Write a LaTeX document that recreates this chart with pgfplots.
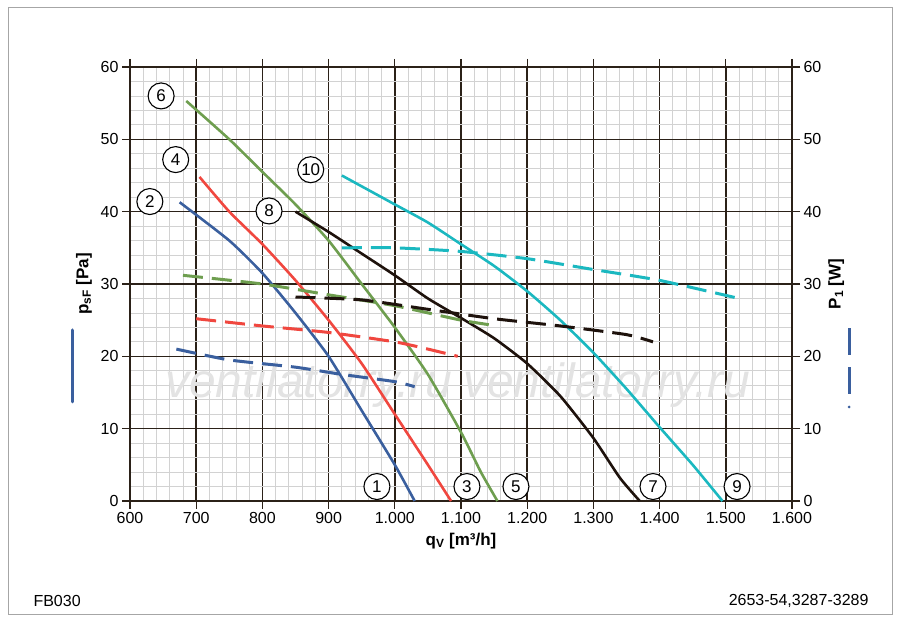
\documentclass[border=0pt]{standalone}
\usepackage{pgfplots}
\pgfplotsset{compat=1.18}
\usepackage{fontspec}
\setmainfont{Liberation Sans}
\definecolor{cblue}{HTML}{3A5F9E}
\definecolor{cred}{HTML}{F0473F}
\definecolor{cgreen}{HTML}{6E9E4F}
\definecolor{cblack}{HTML}{1E120C}
\definecolor{ccyan}{HTML}{1BB8C0}
\definecolor{gmaj}{HTML}{2B2118}
\begin{document}
\begin{tikzpicture}[x=1pt,y=1pt]
\path (0,0) rectangle (900,623);
\draw[gray!70,line width=1pt] (8,8) rectangle (892,615);
\node[font=\fontsize{16}{16}\selectfont,anchor=west] at (30,22) {FB030};
\node[font=\fontsize{16}{16}\selectfont,anchor=east] at (872,22) {2653-54,3287-3289};
\begin{axis}[at={(130pt,122pt)},anchor=south west,width=662pt,height=434pt,scale only axis,
 xmin=600,xmax=1600,ymin=0,ymax=60,
 xtick={600,700,...,1600},ytick={0,10,...,60},
 minor x tick num=4,minor y tick num=4,
 grid=both,
 major grid style={gmaj,line width=1.6pt},
 minor grid style={gray!35,line width=0.8pt},
 axis line style={gmaj,line width=1.6pt},
 tick align=outside,major tick length=8pt,minor tick length=0pt,
 tick style={gmaj,line width=1.2pt},
 ticklabel style={font=\fontsize{16}{16}\selectfont},
 /pgf/number format/assume math mode=true,
 /pgf/number format/1000 sep={.},
 scaled ticks=false,
 xlabel={\textbf{q\textsubscript{V} [m³/h]}},
 xlabel style={font=\fontsize{17}{17}\selectfont,yshift=-2pt},
 ylabel={\textbf{p\textsubscript{sF} [Pa]}},
 ylabel style={font=\fontsize{17}{17}\selectfont,yshift=2pt},
 clip=false]
\node[font=\fontsize{48}{48}\selectfont\itshape,text=gray!22] at (axis cs:870,16) {ventilatorry.ru};
\node[font=\fontsize{48}{48}\selectfont\itshape,text=gray!22] at (axis cs:1320,16) {ventilatorry.ru};
\tikzset{sol/.style={line width=2.6pt,smooth,tension=0.35},das/.style={line width=3pt,smooth,tension=0.35,dash pattern=on 20pt off 9pt}}
\addplot[cblue,sol] coordinates {(675,41.3)(750,36)(800,31.5)(850,26)(900,20)(950,12.5)(1000,5)(1030,0)};
\addplot[cred,sol] coordinates {(705,44.8)(750,40)(800,35.5)(850,30.5)(900,25)(950,19)(1000,12)(1050,5)(1085,0)};
\addplot[cgreen,sol] coordinates {(685,55.3)(750,50)(800,45.5)(850,41)(900,36)(950,30)(1000,24)(1050,17.5)(1100,9.5)(1130,4)(1155,0)};
\addplot[cblack,sol] coordinates {(850,40)(900,37.2)(950,34.2)(1000,31.2)(1050,28)(1100,25.3)(1150,22.5)(1200,19)(1250,14.5)(1300,8.7)(1340,3.2)(1370,0)};
\addplot[ccyan,sol] coordinates {(920,45)(1000,41)(1050,38.5)(1100,35.5)(1150,32.5)(1200,29)(1250,25)(1300,20.5)(1350,15.5)(1400,10.2)(1450,5)(1495,0)};
\addplot[cblue,das] coordinates {(670,21)(750,19.5)(850,18.5)(920,17.5)(1000,16.5)(1030,15.8)};
\addplot[cred,das] coordinates {(700,25.2)(800,24.2)(900,23.3)(1000,22)(1050,21)(1095,20)};
\addplot[cgreen,das] coordinates {(680,31.2)(800,30)(900,28.5)(1000,27)(1100,25)(1155,24.2)};
\addplot[cblack,das] coordinates {(850,28.2)(950,27.8)(1050,26.5)(1150,25.2)(1250,24.2)(1350,23)(1390,22)};
\addplot[ccyan,das] coordinates {(920,35)(1000,35)(1100,34.5)(1200,33.5)(1300,32)(1400,30.5)(1520,28)};
\tikzset{lab/.style={circle,draw=black,line width=1.1pt,fill=white,inner sep=0pt,minimum size=26pt,font=\fontsize{17}{17}\selectfont}}
\node[lab] at (axis cs:973,2) {1};
\node[lab] at (axis cs:1109,2) {3};
\node[lab] at (axis cs:1183,2) {5};
\node[lab] at (axis cs:1390,2) {7};
\node[lab] at (axis cs:1517,2) {9};
\node[lab] at (axis cs:630,41.4) {2};
\node[lab] at (axis cs:669,47.2) {4};
\node[lab] at (axis cs:647,56) {6};
\node[lab] at (axis cs:810,40.1) {8};
\node[lab] at (axis cs:873,45.8) {10};
\end{axis}
\begin{axis}[at={(130pt,122pt)},anchor=south west,width=662pt,height=434pt,scale only axis,
 xmin=600,xmax=1600,ymin=0,ymax=60,
 axis x line=none,axis y line*=right,
 ytick={0,10,...,60},
 axis line style={gmaj,line width=1.6pt},
 tick align=outside,major tick length=8pt,
 tick style={gmaj,line width=1.2pt},
 ticklabel style={font=\fontsize{16}{16}\selectfont},
 /pgf/number format/assume math mode=true,
 ylabel={\textbf{P\textsubscript{1} [W]}},
 ylabel style={font=\fontsize{17}{17}\selectfont},
 clip=false]
\end{axis}
\draw[cblue,line width=3pt,line cap=round] (72,221) -- (72,293);
\draw[cblue,line width=3pt] (849,229) -- (849,256);
\draw[cblue,line width=3pt] (849,268) -- (849,295);
\fill[cblue] (849,216) circle (1.5pt);
\end{tikzpicture}
\end{document}
